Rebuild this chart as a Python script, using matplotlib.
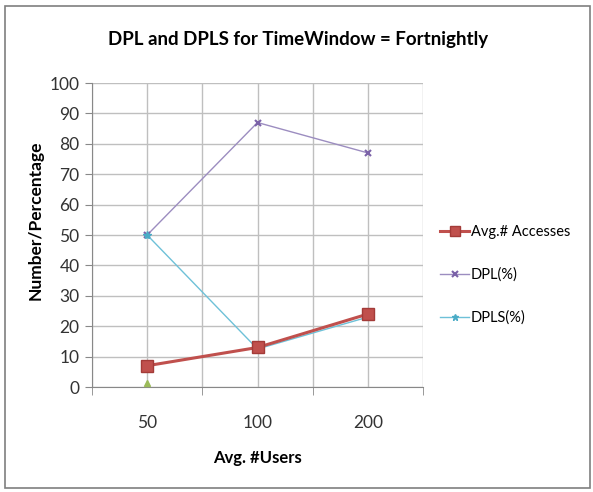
"""Line chart: DPL and DPLS for TimeWindow = Fortnightly."""
import matplotlib.pyplot as plt
import numpy as np
from matplotlib.patches import Rectangle

users = ["50", "100", "200"]
avg_accesses = [7, 13, 24]
dpl = [50, 87, 77]
dpls = [50, 12.5, 23]
extra = [1.2, np.nan, np.nan]  # stray point with no legend entry

plt.rcParams["font.family"] = ["Lato", "DejaVu Sans"]

fig = plt.figure(figsize=(5.93, 4.92), dpi=100)
ax = fig.add_axes([92 / 593, 1 - 387 / 492, 331 / 593, 304 / 492])

x = np.arange(len(users))
ax.plot(x, avg_accesses, color="#C0504D", lw=2.2, marker="s", ms=9,
        mfc="#C0504D", mec="#A33B38", label="Avg.# Accesses", zorder=4)
ax.plot(x, dpl, color="#9C8DC0", lw=1.0, marker="x", ms=5, mew=1.5,
        mec="#7B62A8", label="DPL(%)", zorder=3)
ax.plot(x, dpls, color="#6EC1D8", lw=1.0, marker="*", ms=6,
        mfc="#4BACC6", mec="#4BACC6", label="DPLS(%)", zorder=3)
ax.plot(x, extra, color="#9BBB59", lw=1.0, marker="^", ms=5, zorder=3)

ax.set_xlim(-0.5, len(users) - 0.5)
ax.set_ylim(0, 100)
ax.set_yticks(range(0, 101, 10))
ax.set_xticks(x)
ax.set_xticklabels(users)
ax.set_xticks(np.arange(-0.5, len(users), 1), minor=True)

ax.grid(True, which="major", color="#BFBFBF", lw=1.0)
ax.grid(True, which="minor", axis="x", color="#BFBFBF", lw=1.0)
ax.tick_params(axis="x", which="major", length=0, pad=20, labelsize=12.5, colors="#333333")
ax.tick_params(axis="x", which="minor", length=6, color="#888888")
ax.tick_params(axis="y", length=5, color="#888888", labelsize=12.5, colors="#333333", pad=4)
for s in ["top", "right"]:
    ax.spines[s].set_visible(False)
for s in ["left", "bottom"]:
    ax.spines[s].set_color("#888888")

ax.set_ylabel("Number/Percentage", fontsize=12.5, fontweight="bold")
ax.yaxis.set_label_coords(-0.145, 0.55)
ax.set_xlabel("Avg. #Users", fontsize=12, fontweight="bold", labelpad=14)
fig.text(298 / 593, 1 - 40 / 492, "DPL and DPLS for TimeWindow = Fortnightly",
         ha="center", va="center", fontsize=13.5, fontweight="bold")

leg = ax.legend(loc="center left", bbox_to_anchor=(440 / 593, 1 - 275 / 492),
                bbox_transform=fig.transFigure, frameon=False, fontsize=10.5,
                handlelength=2.0, handletextpad=0.1, labelspacing=1.95,
                borderaxespad=0, borderpad=0, markerscale=0.8)

fig.patches.append(Rectangle((5 / 593, 4 / 492), 585 / 593, 482 / 492,
                             transform=fig.transFigure, fill=False,
                             edgecolor="#7F7F7F", lw=1.2))

fig.savefig("out.png", dpi=100)
plt.close(fig)
